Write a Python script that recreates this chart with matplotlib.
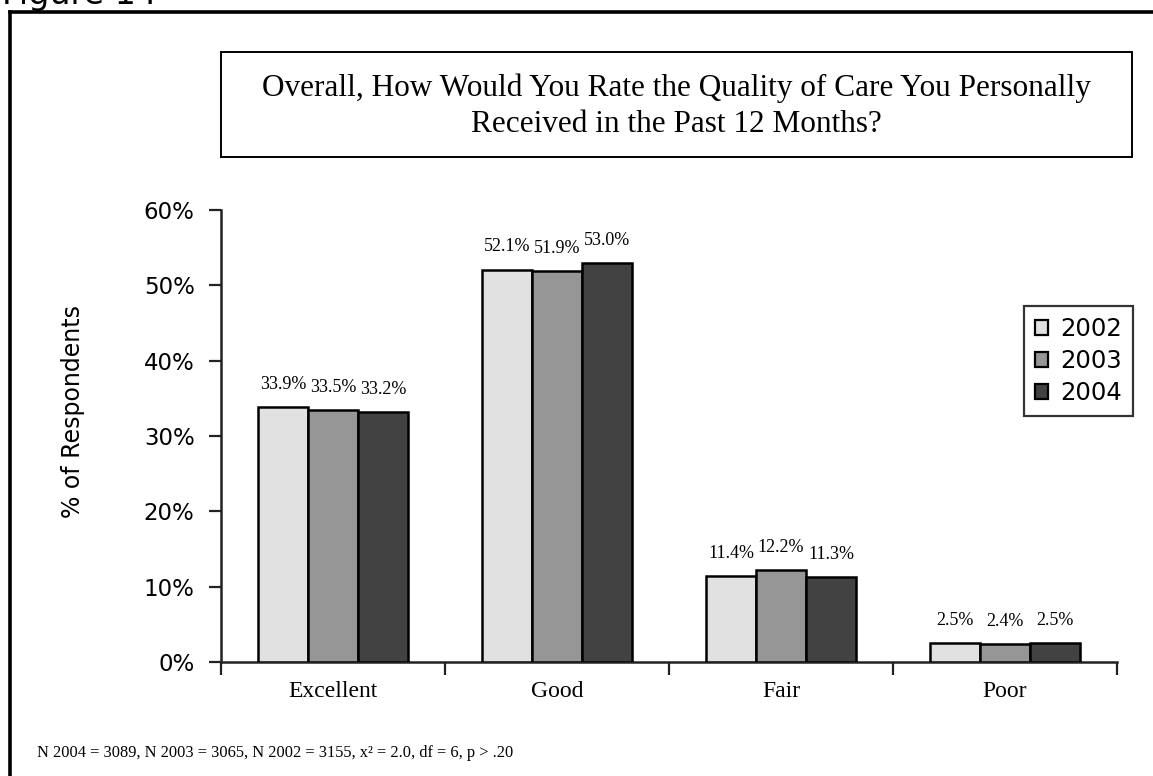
import matplotlib
matplotlib.use("Agg")
import matplotlib.pyplot as plt
from matplotlib.patches import Rectangle, Patch
from matplotlib.lines import Line2D
from matplotlib.ticker import PercentFormatter, FixedLocator, NullFormatter
import numpy as np

categories = ["Excellent", "Good", "Fair", "Poor"]
years = ["2002", "2003", "2004"]
values_2002 = [33.9, 52.1, 11.4, 2.5]
values_2003 = [33.5, 51.9, 12.2, 2.4]
values_2004 = [33.2, 53.0, 11.3, 2.5]
series = [values_2002, values_2003, values_2004]
colors = ["#e1e1e1", "#969696", "#424242"]
yticks = [0, 10, 20, 30, 40, 50, 60]

title_text = "Overall, How Would You Rate the Quality of Care You Personally\nReceived in the Past 12 Months?"
footnote = "N 2004 = 3089, N 2003 = 3065, N 2002 = 3155, x\u00b2 = 2.0, df = 6, p > .20"

W, H = 1153, 776
fig = plt.figure(figsize=(W / 100, H / 100), dpi=100)

def fx(px):
    return px / W

def fy(py):
    return 1 - py / H

serif = "Liberation Serif"
sans = "DejaVu Sans"

# outer frame (left + top)
fig.add_artist(Line2D([fx(10), fx(10)], [fy(12), fy(800)], color="black", lw=2.6,
                      transform=fig.transFigure, solid_capstyle="projecting"))
fig.add_artist(Line2D([fx(10), fx(1170)], [fy(12), fy(12)], color="black", lw=2.6,
                      transform=fig.transFigure, solid_capstyle="projecting"))

# cut-off figure caption
fig.text(fx(2), fy(4), "Figure 14", fontsize=24, family=sans, va="baseline", ha="left")

# title box
fig.add_artist(Rectangle((fx(221), fy(157)), fx(1132) - fx(221), fy(52) - fy(157),
                         transform=fig.transFigure, fill=False, ec="black", lw=1.4))
fig.text(fx(676), fy(106), title_text, fontsize=22.5, family=serif, ha="center",
         va="center", linespacing=1.3)

ax = fig.add_axes([fx(221), fy(662), fx(1117) - fx(221), fy(210) - fy(662)])

x = np.arange(len(categories))
bw = 0.223
offsets = [-bw, 0, bw]
for vals, col, off, yr in zip(series, colors, offsets, years):
    ax.bar(x + off, vals, width=bw, color=col, edgecolor="black", linewidth=1.8,
           label=yr, zorder=3)
    for xi, v in zip(x, vals):
        ax.annotate(f"{v:.1f}%", (xi + off, v), xytext=(0, 13),
                    textcoords="offset points", ha="center", va="baseline",
                    fontsize=13, family=serif)

ax.set_xlim(-0.5, len(categories) - 0.5)
ax.set_ylim(0, 60)
ax.set_yticks(yticks)
ax.yaxis.set_major_formatter(PercentFormatter(decimals=0))
ax.tick_params(axis="y", direction="out", length=9, width=1.6, pad=10,
               labelsize=16.5, color="#222222")
for lab in ax.get_yticklabels():
    lab.set_family(sans)

ax.xaxis.set_major_locator(FixedLocator(np.arange(len(categories) + 1) - 0.5))
ax.xaxis.set_major_formatter(NullFormatter())
ax.xaxis.set_minor_locator(FixedLocator(x))
ax.set_xticklabels(categories, minor=True)
ax.tick_params(axis="x", which="major", direction="out", length=9, width=1.6,
               color="#222222")
ax.tick_params(axis="x", which="minor", length=0, pad=14, labelsize=17)
for lab in ax.get_xticklabels(minor=True):
    lab.set_family(serif)

for s in ["top", "right"]:
    ax.spines[s].set_visible(False)
for s in ["left", "bottom"]:
    ax.spines[s].set_linewidth(1.8)
    ax.spines[s].set_color("#222222")

ax.set_ylabel("% of Respondents", fontsize=17, family=sans)
ax.yaxis.set_label_coords(-0.152, 0.555)

handles = [Patch(facecolor=c, edgecolor="black", linewidth=1.6, label=y)
           for c, y in zip(colors, years)]
leg = fig.legend(handles=handles, loc="upper right",
                 bbox_to_anchor=(fx(1133), fy(306)), frameon=True, fancybox=False,
                 prop={"family": sans, "size": 17.5}, handlelength=0.55,
                 handleheight=0.55, handletextpad=0.5, borderpad=0.45,
                 labelspacing=0.33, borderaxespad=0)
leg.get_frame().set_edgecolor("black")
leg.get_frame().set_linewidth(1.6)

fig.text(fx(37), fy(757), footnote, fontsize=11.8, family=serif, ha="left",
         va="baseline")

fig.savefig("out.png", dpi=100)
